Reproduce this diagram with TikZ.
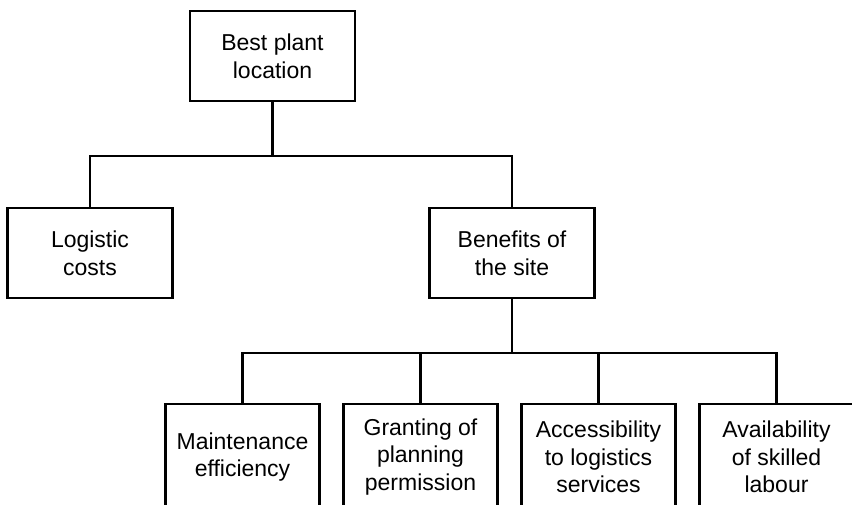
\documentclass[tikz,border=0pt]{standalone}
\usepackage{fontspec}
\setmainfont{Liberation Sans}
\usepackage{tikz}
\usetikzlibrary{trees}

\tikzset{
    factorbox/.style={minimum width=154pt, minimum height=106pt}
}

\begin{document}
\begin{tikzpicture}[
    x=1pt, y=1pt,
    line width=2.4pt,
    level 1/.style={sibling distance=422pt, level distance=197pt},
    level 2/.style={sibling distance=178pt, level distance=204pt},
    every node/.style={draw, rectangle, align=center, minimum width=165pt,
        minimum height=90pt, font=\fontsize{23}{27.6}\selectfont},
    edge from parent/.style={draw, line width=2.4pt},
    edge from parent path={(\tikzparentnode.south) -- +(0,-54pt) -| (\tikzchildnode.north)}
]
\useasboundingbox (0,0) rectangle (852,-505);
\clip (0,0) rectangle (852,-505);
\node (best) at (272.5,-56) {Best plant \\ location}
    child[xshift=28.5pt] { node (logistic) {Logistic \\ costs} }
    child[xshift=28.5pt] { node (benefits) {Benefits of \\ the site}
        child[xshift=-2.5pt] { node[factorbox] (maint) {Maintenance \\ efficiency} }
        child[xshift=-2.5pt] { node[factorbox] (permit) {Granting of \\ planning \\ permission} }
        child[xshift=-2.5pt] { node[factorbox] (access) {Accessibility \\ to logistics \\ services} }
        child[xshift=-2.5pt] { node[factorbox] (labour) {Availability \\ of skilled \\ labour} }
    };
\end{tikzpicture}
\end{document}
